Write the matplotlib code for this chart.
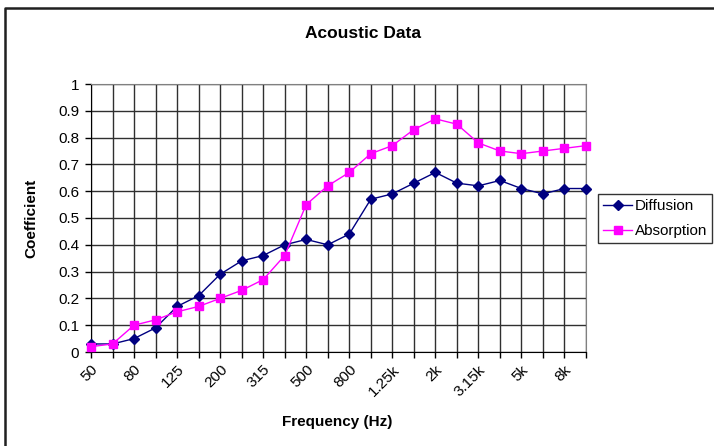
import matplotlib
matplotlib.use("Agg")
import matplotlib.pyplot as plt
from matplotlib.lines import Line2D

plt.rcParams['font.family'] = ['Liberation Sans', 'DejaVu Sans']

categories = ['50', '63', '80', '100', '125', '160', '200', '250', '315', '400', '500', '630',
              '800', '1k', '1.25k', '1.6k', '2k', '2.5k', '3.15k', '4k', '5k', '6.3k', '8k', '10k']
diffusion = [0.03, 0.03, 0.05, 0.09, 0.17, 0.21, 0.29, 0.34, 0.36, 0.40, 0.42, 0.40,
             0.44, 0.57, 0.59, 0.63, 0.67, 0.63, 0.62, 0.64, 0.61, 0.59, 0.61, 0.61]
absorption = [0.02, 0.03, 0.10, 0.12, 0.15, 0.17, 0.20, 0.23, 0.27, 0.36, 0.55, 0.62,
              0.67, 0.74, 0.77, 0.83, 0.87, 0.85, 0.78, 0.75, 0.74, 0.75, 0.76, 0.77]
yticks = [0, 0.1, 0.2, 0.3, 0.4, 0.5, 0.6, 0.7, 0.8, 0.9, 1]
ytick_labels = ['0', '0.1', '0.2', '0.3', '0.4', '0.5', '0.6', '0.7', '0.8', '0.9', '1']

W, H = 714, 446
fig = plt.figure(figsize=(W / 100, H / 100), dpi=100)
left, right, top, bottom = 91, 586, 84, 352
ax = fig.add_axes([left / W, 1 - bottom / H, (right - left) / W, (bottom - top) / H])

x = list(range(len(categories)))
ax.plot(x, diffusion, color='#000080', lw=1, marker='D', ms=5, label='Diffusion', zorder=3,
        clip_on=False)
ax.plot(x, absorption, color='#FF00FF', lw=1, marker='s', ms=6, label='Absorption', zorder=3,
        clip_on=False)

ax.set_xlim(0, len(categories) - 1)
ax.set_ylim(0, 1)
ax.set_xticks(x)
ax.set_xticklabels([c if i % 2 == 0 else '' for i, c in enumerate(categories)],
                   rotation=45, ha='right', rotation_mode='anchor', fontsize=11)
ax.set_yticks(yticks)
ax.set_yticklabels(ytick_labels, fontsize=11)
ax.tick_params(axis='both', direction='out', length=4.5, width=1, color='black')
ax.tick_params(axis='y', pad=4)
ax.tick_params(axis='x', pad=3)
ax.grid(True, color='#303030', lw=1, zorder=0)
for s in ['top', 'right']:
    ax.spines[s].set_color('#808080')
for s in ['left', 'bottom']:
    ax.spines[s].set_color('black')
ax.set_axisbelow(True)

fig.text(363 / W, 1 - 34 / H, 'Acoustic Data', ha='center', va='center', fontsize=12.5,
         fontweight='bold')
fig.text(31 / W, 1 - 218 / H, 'Coefficient', ha='center', va='center', rotation=90,
         fontsize=11, fontweight='bold')
fig.text(337 / W, 1 - 422 / H, 'Frequency (Hz)', ha='center', va='center', fontsize=11,
         fontweight='bold')

leg = fig.legend(loc='upper left', bbox_to_anchor=(598 / W, 1 - 194 / H), frameon=True,
                 fancybox=False, edgecolor='black', fontsize=11, borderpad=0.35,
                 handlelength=1.9, handletextpad=0.15, labelspacing=0.7, borderaxespad=0)
leg.get_frame().set_linewidth(1)

# outer chart border (top and left edges visible; the rest runs off the image)
fig.lines.append(Line2D([5 / W, 5 / W, 1], [0, 1 - 8 / H, 1 - 8 / H],
                        transform=fig.transFigure, color='#202020', lw=1.8))

fig.savefig('out.png', dpi=100)
